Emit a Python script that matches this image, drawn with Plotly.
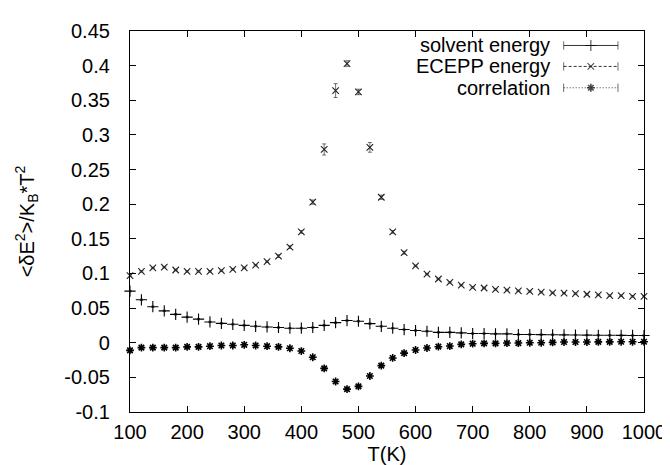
import plotly.graph_objects as go

# ---------------- data ----------------
temperature = list(range(100, 1001, 20))

solvent_energy = [
    0.0745, 0.062, 0.052, 0.046, 0.041, 0.037, 0.034, 0.030, 0.028, 0.0266,
    0.025, 0.0237, 0.0228, 0.022, 0.021, 0.021, 0.022, 0.025, 0.029, 0.032,
    0.031, 0.0276, 0.0237, 0.021, 0.019, 0.0176, 0.0166, 0.015, 0.015, 0.0142,
    0.0133, 0.0133, 0.0128, 0.0128, 0.0119, 0.0119, 0.0117, 0.0115, 0.0113, 0.0111,
    0.011, 0.0108, 0.0107, 0.0106, 0.0105, 0.0104,
]

ecepp_energy = [
    0.097, 0.103, 0.108, 0.109, 0.105, 0.103, 0.103, 0.103, 0.104, 0.106,
    0.108, 0.112, 0.117, 0.125, 0.138, 0.160, 0.203, 0.279, 0.364, 0.403,
    0.362, 0.282, 0.210, 0.160, 0.130, 0.111, 0.099, 0.092, 0.087, 0.083,
    0.080, 0.079, 0.077, 0.076, 0.075, 0.074, 0.073, 0.072, 0.0715, 0.071,
    0.070, 0.069, 0.068, 0.068, 0.067, 0.067,
]
ecepp_error = [
    0.001, 0.001, 0.001, 0.001, 0.001, 0.001, 0.001, 0.001, 0.001, 0.001,
    0.001, 0.001, 0.001, 0.002, 0.002, 0.002, 0.003, 0.008, 0.010, 0.004,
    0.004, 0.007, 0.003, 0.002, 0.002, 0.001, 0.001, 0.001, 0.001, 0.001,
    0.001, 0.001, 0.001, 0.001, 0.001, 0.001, 0.001, 0.001, 0.001, 0.001,
    0.001, 0.001, 0.001, 0.001, 0.001, 0.001,
]

correlation = [
    -0.011, -0.007, -0.007, -0.007, -0.007, -0.006, -0.006, -0.005, -0.004, -0.004,
    -0.003, -0.004, -0.005, -0.006, -0.008, -0.012, -0.021, -0.037, -0.056, -0.067,
    -0.063, -0.048, -0.033, -0.022, -0.015, -0.0105, -0.0076, -0.0057, -0.0048, -0.0024,
    -0.0014, -0.001, -0.001, -0.0005, -0.0005, 0.0, 0.0, 0.0005, 0.001, 0.001,
    0.001, 0.0012, 0.0013, 0.0014, 0.0014, 0.0014,
]

series_names = ["solvent energy", "ECEPP energy", "correlation"]

x_tick_vals = [100, 200, 300, 400, 500, 600, 700, 800, 900, 1000]
y_tick_vals = [-0.1, -0.05, 0, 0.05, 0.1, 0.15, 0.2, 0.25, 0.3, 0.35, 0.4, 0.45]
y_tick_text = ["-0.1", "-0.05", "0", "0.05", "0.1", "0.15", "0.2", "0.25",
               "0.3", "0.35", "0.4", "0.45"]

# ---------------- figure ----------------
FONT = "Liberation Sans, Arial, Helvetica, sans-serif"
FS = 20
BLACK = "#000000"

fig = go.Figure()

fig.add_trace(go.Scatter(
    x=temperature, y=solvent_energy, mode="markers", name=series_names[0],
    marker=dict(symbol="cross-thin", size=8, line=dict(width=1.1, color=BLACK), color=BLACK),
    error_y=dict(type="constant", value=0.001, thickness=0.7, width=1.5, color=BLACK),
    cliponaxis=False, showlegend=False,
))
fig.add_trace(go.Scatter(
    x=temperature, y=ecepp_energy, mode="markers", name=series_names[1],
    marker=dict(symbol="x-thin", size=6.5, line=dict(width=1.1, color="#222"), color="#222"),
    error_y=dict(type="data", array=ecepp_error, thickness=0.7, width=2, color="#333"),
    cliponaxis=False, showlegend=False,
))
fig.add_trace(go.Scatter(
    x=temperature, y=correlation, mode="markers", name=series_names[2],
    marker=dict(symbol="asterisk", size=6.5, line=dict(width=1.6, color=BLACK), color=BLACK),
    error_y=dict(type="constant", value=0.001, thickness=0.7, width=1.5, color=BLACK),
    cliponaxis=False, showlegend=False,
))

# ---------------- key (gnuplot style, text left of sample) ----------------
key_rows = [0.962, 0.907, 0.851]
key_x = [0.8437, 0.8966, 0.9494]
key_symbols = ["cross-thin", "x-thin", "asterisk"]
key_dash = ["solid", "3px,2px", "1px,2px"]
key_sizes = [8, 6.5, 6.5]
key_lw = [1.1, 1.1, 1.6]
for i in range(3):
    fig.add_trace(go.Scatter(
        x=key_x, y=[key_rows[i]] * 3, xaxis="x2", yaxis="y2",
        mode="lines+markers", showlegend=False, hoverinfo="skip",
        line=dict(color=BLACK, width=0.8, dash=key_dash[i]),
        marker=dict(symbol=["line-ns", key_symbols[i], "line-ns"],
                    size=[6, key_sizes[i], 6], color=BLACK,
                    line=dict(width=[0.8, key_lw[i], 0.8], color=BLACK)),
        cliponaxis=False,
    ))
    fig.add_annotation(
        x=0.821, y=key_rows[i], xref="paper", yref="paper",
        text=series_names[i], showarrow=False, xanchor="right", yanchor="middle",
        font=dict(family=FONT, size=FS, color=BLACK),
    )

axis_common = dict(
    showline=True, linecolor=BLACK, linewidth=1.2, mirror="ticks",
    ticks="inside", ticklen=6, tickwidth=1, tickcolor=BLACK,
    showgrid=False, zeroline=False,
    tickfont=dict(family=FONT, size=FS, color=BLACK),
)

fig.update_layout(
    width=670, height=465,
    margin=dict(l=122, r=28, t=19, b=61),
    paper_bgcolor="white", plot_bgcolor="white",
    font=dict(family=FONT, size=FS, color=BLACK),
    xaxis=dict(
        range=[100, 1000], tickvals=x_tick_vals,
        title=dict(text="T(K)", font=dict(family=FONT, size=FS, color=BLACK), standoff=1),
        ticklabelstandoff=2,
        **axis_common,
    ),
    yaxis=dict(
        range=[-0.1, 0.45], tickvals=y_tick_vals, ticktext=y_tick_text,
        title=dict(text="&lt;δE<sup>2</sup>&gt;/K<sub>B</sub>*T<sup>2</sup>",
                   font=dict(family=FONT, size=FS, color=BLACK), standoff=24),
        ticklabelstandoff=15,
        **axis_common,
    ),
    xaxis2=dict(range=[0, 1], overlaying="x", visible=False, fixedrange=True),
    yaxis2=dict(range=[0, 1], overlaying="y", visible=False, fixedrange=True),
    showlegend=False,
)

fig.write_html("out.html")
